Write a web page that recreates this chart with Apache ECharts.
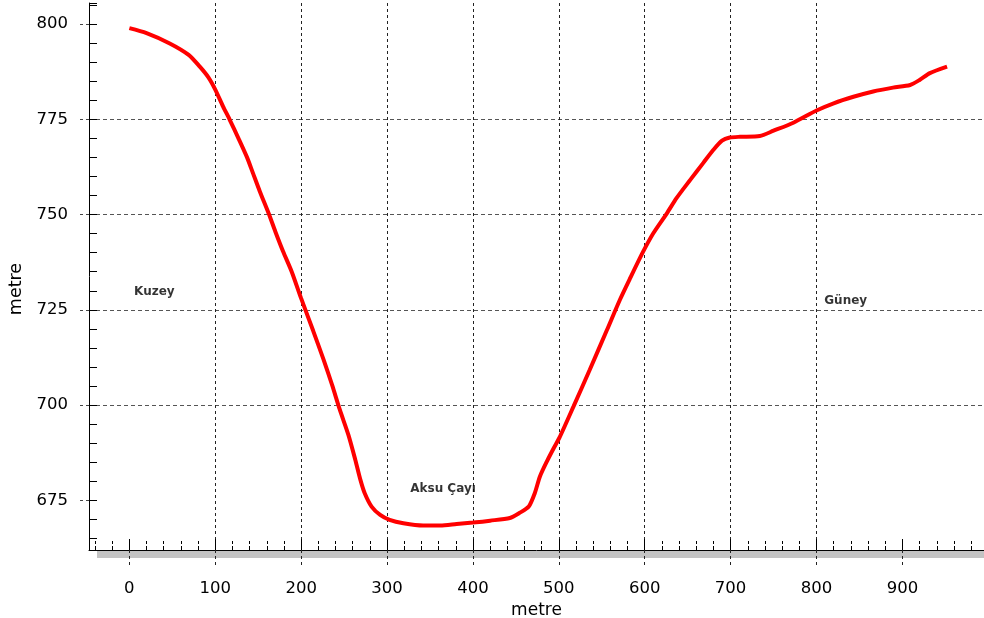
<!DOCTYPE html>
<html>
<head>
<meta charset="utf-8">
<script src="https://cdn.jsdelivr.net/npm/echarts@6/dist/echarts.min.js"></script>
<style>html,body{margin:0;padding:0;background:#fff;}#c{width:984px;height:618px;}</style>
</head>
<body>
<div id="c"></div>
<script>
const distance = [0, 20, 47, 69, 82, 92, 100, 109, 117, 127, 137, 144, 152, 162, 170, 179, 189, 200, 214, 226, 236, 245, 255, 263, 269, 274, 282, 292, 303, 319, 342, 362, 381, 400, 420, 443, 454, 465, 472, 478, 486, 494, 501, 517, 536, 556, 571, 583, 598, 610, 626, 637, 653, 668, 680, 690, 699, 711, 734, 750, 773, 800, 820, 843, 866, 889, 909, 920, 932, 952];
const elevation = [798.9, 797.6, 794.9, 791.9, 788.8, 786.0, 782.8, 778.4, 774.8, 770.0, 765.0, 760.8, 756.0, 750.4, 745.5, 740.3, 735.0, 728.0, 719.5, 712.0, 705.3, 698.8, 692.2, 685.7, 680.4, 676.9, 673.4, 671.2, 669.9, 669.0, 668.4, 668.4, 668.8, 669.2, 669.7, 670.4, 671.7, 673.4, 676.9, 681.3, 685.2, 688.7, 691.6, 699.6, 709.3, 719.7, 727.6, 733.3, 740.2, 745.1, 750.4, 754.3, 759.1, 763.5, 767.0, 769.4, 770.2, 770.4, 770.6, 772.0, 774.1, 777.3, 779.2, 780.9, 782.3, 783.3, 784.0, 785.3, 787.1, 788.8];
const xTicks = [0, 100, 200, 300, 400, 500, 600, 700, 800, 900];
const yTicks = [675, 700, 725, 750, 775, 800];
const annotationNames = ['Kuzey', 'Aksu Çayı', 'Güney'];
const annotationX = [5.5, 327, 809];
const annotationY = [729.8, 678, 727.4];
const axisTitle = 'metre';

const X_MIN = -47, X_MAX = 995, Y_MIN = 662, Y_MAX = 805.5;
const numFont = 'DejaVu Sans';

const chart = echarts.init(document.getElementById('c'), null, {renderer: 'canvas'});

const baseX = {type: 'value', min: X_MIN, max: X_MAX, position: 'bottom', gridIndex: 0};
const baseY = {type: 'value', min: Y_MIN, max: Y_MAX, position: 'left', gridIndex: 0};

const option = {
  animation: false,
  backgroundColor: '#ffffff',
  grid: {left: 89, top: 3, right: 0, bottom: 68, containLabel: false, outerBoundsMode: 'none'},
  graphic: [{
    type: 'rect', z: -1, silent: true,
    shape: {x: 97, y: 551, width: 887, height: 7},
    style: {fill: '#c3c3c3'}
  }],
  xAxis: [
    Object.assign({}, baseX, {
      minInterval: 100, maxInterval: 100,
      name: axisTitle, nameLocation: 'middle', nameGap: 51,
      nameTextStyle: {fontFamily: numFont, fontSize: 17, color: '#000'},
      axisLine: {show: true, onZero: false, lineStyle: {color: '#000', width: 1}},
      axisTick: {show: true, inside: false, length: 15, customValues: xTicks,
                 lineStyle: {color: '#222', type: [3, 3]}},
      axisLabel: {show: true, customValues: xTicks,
                  margin: 30, fontFamily: numFont, fontSize: 16.5, color: '#000'},
      splitLine: {show: true, showMinLine: false, showMaxLine: false,
                  lineStyle: {color: '#222', type: [3, 3], width: 1}}
    }),
    Object.assign({}, baseX, {
      minInterval: 20, maxInterval: 20,
      axisLine: {show: false, onZero: false},
      axisTick: {show: true, inside: true, length: 9, lineStyle: {color: '#000', type: [4, 2]}},
      axisLabel: {show: false}, splitLine: {show: false}
    }),
    Object.assign({}, baseX, {
      minInterval: 100, maxInterval: 100,
      axisLine: {show: false, onZero: false},
      axisTick: {show: true, inside: true, length: 11, customValues: xTicks, lineStyle: {color: '#000', width: 1}},
      axisLabel: {show: false}, splitLine: {show: false}
    })
  ],
  yAxis: [
    Object.assign({}, baseY, {
      minInterval: 25, maxInterval: 25,
      name: axisTitle, nameLocation: 'middle', nameGap: 64, nameRotate: 90,
      nameTextStyle: {fontFamily: numFont, fontSize: 17.5, color: '#000', padding: [0, 25, 0, 0]},
      axisLine: {show: true, onZero: false, lineStyle: {color: '#000', width: 1}},
      axisTick: {show: true, inside: false, length: 9, customValues: yTicks,
                 lineStyle: {color: '#444', type: [3, 3]}},
      axisLabel: {show: true, customValues: yTicks,
                  margin: 21, fontFamily: numFont, fontSize: 16.5, color: '#000'},
      splitLine: {show: true, showMinLine: false, showMaxLine: false,
                  lineStyle: {color: '#555', type: [4, 3], width: 1}}
    }),
    Object.assign({}, baseY, {
      minInterval: 5, maxInterval: 5,
      axisLine: {show: false, onZero: false},
      axisTick: {show: true, inside: true, length: 8, lineStyle: {color: '#000', width: 1}},
      axisLabel: {show: false}, splitLine: {show: false}
    })
  ],
  series: [
    {
      type: 'line',
      xAxisIndex: 0, yAxisIndex: 0,
      data: distance.map((d, i) => [d, elevation[i]]),
      showSymbol: false, symbol: 'none',
      smooth: 0.25,
      lineStyle: {color: '#ff0000', width: 4},
      z: 5
    },
    {
      type: 'scatter',
      xAxisIndex: 0, yAxisIndex: 0,
      symbolSize: 0,
      data: annotationNames.map((n, i) => ({name: n, value: [annotationX[i], annotationY[i]]})),
      label: {
        show: true, position: 'right', distance: 0,
        formatter: p => p.name,
        fontFamily: 'DejaVu Sans', fontWeight: 'bold', fontSize: 12, color: '#000'
      },
      z: 6
    }
  ]
};
chart.setOption(option);
</script>
</body>
</html>
